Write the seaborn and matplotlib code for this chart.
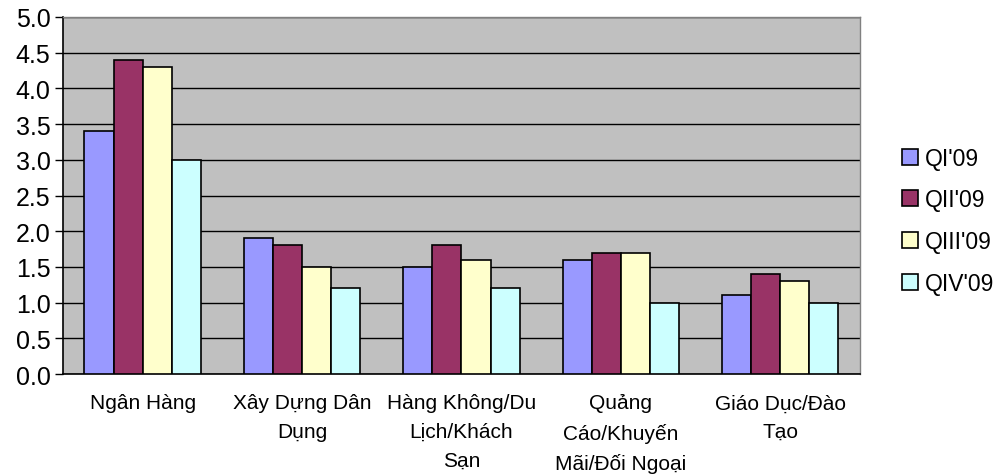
import matplotlib
matplotlib.use("Agg")
import matplotlib.pyplot as plt
from matplotlib.patches import Patch
import seaborn as sns
import pandas as pd
import numpy as np

categories = ["Ngân Hàng", "Xây Dựng Dân\nDụng", "Hàng Không/Du\nLịch/Khách\nSạn",
              "Quảng\nCáo/Khuyến\nMãi/Đối Ngoại", "Giáo Dục/Đào\nTạo"]
series = ["QI'09", "QII'09", "QIII'09", "QIV'09"]
q1 = [3.4, 1.9, 1.5, 1.6, 1.1]
q2 = [4.4, 1.8, 1.8, 1.7, 1.4]
q3 = [4.3, 1.5, 1.6, 1.7, 1.3]
q4 = [3.0, 1.2, 1.2, 1.0, 1.0]
colors = ["#9999FF", "#993366", "#FFFFCC", "#CCFFFF"]

df = pd.DataFrame({
    "category": categories * 4,
    "series": np.repeat(series, len(categories)),
    "value": q1 + q2 + q3 + q4,
})

sns.set_style("white")
plt.rcParams["font.family"] = ["Liberation Sans", "DejaVu Sans"]
plt.rcParams["text.color"] = "black"
plt.rcParams["xtick.color"] = "black"
plt.rcParams["ytick.color"] = "black"

fig = plt.figure(figsize=(9.98, 4.77), dpi=100)
ax = fig.add_axes([0.0631, 0.2138, 0.7986, 0.7485])
ax.set_facecolor("#C0C0C0")

sns.barplot(data=df, x="category", y="value", hue="series", palette=colors,
            saturation=1, width=0.73, gap=0, edgecolor="black", linewidth=1.2,
            legend=False, ax=ax, zorder=3)

ax.set_ylim(0, 5.0)
ax.set_xlim(-0.5, len(categories) - 0.5)
ax.set_yticks(np.arange(0, 5.01, 0.5))
ax.set_yticklabels([f"{v:.1f}" for v in np.arange(0, 5.01, 0.5)], fontsize=18)
ax.yaxis.grid(True, color="black", linewidth=1, zorder=0)
ax.set_axisbelow(True)
ax.set_xlabel("")
ax.set_ylabel("")

ax.set_xticks(range(len(categories)))
ax.set_xticklabels(categories, fontsize=15, linespacing=1.65, va="top")
ax.tick_params(axis="x", which="major", length=0, pad=14)
ax.set_xticks(np.arange(-0.5, len(categories), 1.0), minor=True)
ax.tick_params(axis="x", which="minor", length=6, width=1, color="black", direction="out")
ax.tick_params(axis="y", length=6, width=1, color="black", direction="out", left=True, pad=3)

for s in ["left", "bottom"]:
    ax.spines[s].set_color("black")
    ax.spines[s].set_linewidth(1.2)
for s in ["top", "right"]:
    ax.spines[s].set_color("#808080")
    ax.spines[s].set_linewidth(1)

handles = [Patch(facecolor=c, edgecolor="black", linewidth=1.2, label=s)
           for c, s in zip(colors, series)]
fig.legend(handles=handles, loc="center left", bbox_to_anchor=(0.899, 0.535),
           frameon=False, fontsize=16.5, handlelength=0.7, handleheight=0.7,
           handletextpad=0.3, labelspacing=0.82, borderaxespad=0, borderpad=0.2)

fig.savefig("out.png", dpi=100)
